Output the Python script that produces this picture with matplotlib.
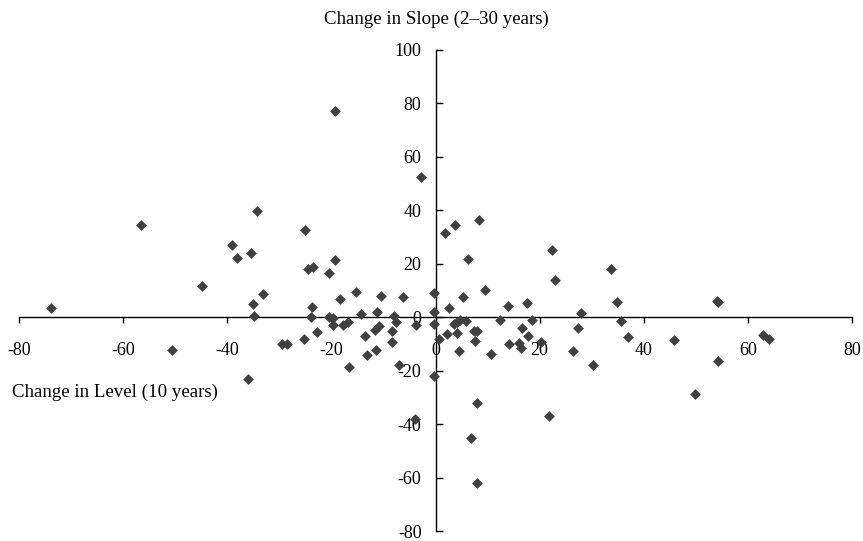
import numpy as np
import matplotlib
matplotlib.use("Agg")
import matplotlib.pyplot as plt

# change in level (10 years) vs change in slope (2-30 years)
level_change = [
    -73.9, -56.6, -50.7, -44.9, -39.0, -38.1, -36.0, -35.5, -35.0, -34.9,
    -34.3, -33.1, -29.5, -28.5, -25.3, -25.0, -24.4, -23.5, -24.0, -23.7,
    -22.7, -20.5, -20.5, -19.6, -19.7, -19.3, -19.3, -18.3, -17.7, -16.9,
    -16.6, -15.3, -14.4, -13.5, -13.2, -11.6, -11.4, -11.2, -10.9, -10.5,
    -8.4, -8.4, -8.0, -7.6, -7.0, -6.2, -3.9, -3.8, -2.8, -0.2,
    -0.3, -0.3, -0.2, 0.7, 1.8, 2.3, 2.6, 3.6, 3.8, 4.1,
    4.1, 4.6, 4.8, 5.2, 5.9, 6.3, 6.8, 7.3, 7.5, 7.9,
    7.9, 8.0, 8.4, 9.5, 10.6, 12.4, 13.9, 14.1, 16.1, 16.4,
    16.6, 17.6, 17.8, 18.5, 20.3, 21.8, 22.4, 23.0, 26.4, 27.4,
    28.0, 30.3, 33.8, 34.9, 35.6, 37.0, 45.8, 49.8, 54.0, 54.3,
    54.2, 63.0, 64.0,
]
slope_change = [
    3.5, 34.6, -12.2, 11.7, 27.1, 22.2, -23.0, 24.1, 5.0, 0.3,
    39.8, 8.7, -10.2, -10.2, -8.2, 32.7, 18.1, 18.9, 0.0, 3.7,
    -5.4, 16.6, 0.0, -0.2, -2.8, 21.6, 77.0, 6.7, -2.8, -1.9,
    -18.7, 9.5, 1.3, -7.1, -14.3, -4.7, -12.1, 1.9, -3.4, 8.0,
    -5.3, -9.3, 0.4, -1.9, -18.0, 7.7, -38.2, -2.8, 52.5, 9.0,
    1.9, -2.7, -22.0, -8.3, 31.7, -6.2, 3.4, -2.5, 34.6, -6.0,
    -1.9, -12.8, -1.2, 7.5, -1.5, 21.8, -45.1, -5.0, -9.0, -32.1,
    -62.2, -5.0, 36.5, 10.3, -13.9, -1.2, 4.1, -10.2, -9.7, -11.7,
    -4.0, 5.2, -7.2, -1.0, -9.1, -37.1, 25.1, 14.1, -12.5, -4.0,
    1.6, -17.9, 17.9, 5.6, -1.6, -7.3, -8.7, -28.8, 6.2, 5.8,
    -16.5, -6.8, -8.3,
]

x_ticks = [-80, -60, -40, -20, 0, 20, 40, 60, 80]
y_ticks = [-80, -60, -40, -20, 0, 20, 40, 60, 80, 100]

plt.rcParams["font.family"] = ["Liberation Serif", "DejaVu Serif"]

W, H = 863, 541
fig = plt.figure(figsize=(W / 100, H / 100), dpi=100)
ax = fig.add_axes([19 / W, 1 - 531 / H, (852 - 19) / W, (531 - 50) / H])

ax.scatter(level_change, slope_change, marker="D", s=30, color="#404040",
           linewidths=0, zorder=3, clip_on=False)

ax.set_xlim(-80, 80)
ax.set_ylim(-80, 100)

# axes cross at the origin
ax.spines["left"].set_position(("data", 0))
ax.spines["bottom"].set_position(("data", 0))
ax.spines["right"].set_visible(False)
ax.spines["top"].set_visible(False)
for sp in ("left", "bottom"):
    ax.spines[sp].set_linewidth(1.0)
    ax.spines[sp].set_color("black")

ax.set_xticks(x_ticks)
ax.set_yticks(y_ticks)
ax.set_xticklabels([str(v) for v in x_ticks])
ax.set_yticklabels([str(v) for v in y_ticks])
ax.tick_params(axis="x", direction="out", length=4.5, width=1.0, pad=13, labelsize=13)
ax.tick_params(axis="y", direction="in", length=5, width=1.0, pad=10, labelsize=13)
ax.patch.set_visible(False)

fig.text(436 / W, 1 - 19 / H, "Change in Slope (2\u201330 years)",
         ha="center", va="center", fontsize=13.6)
fig.text(12 / W, 1 - 392 / H, "Change in Level (10 years)",
         ha="left", va="center", fontsize=13.6)

fig.savefig("out.png", dpi=100)
